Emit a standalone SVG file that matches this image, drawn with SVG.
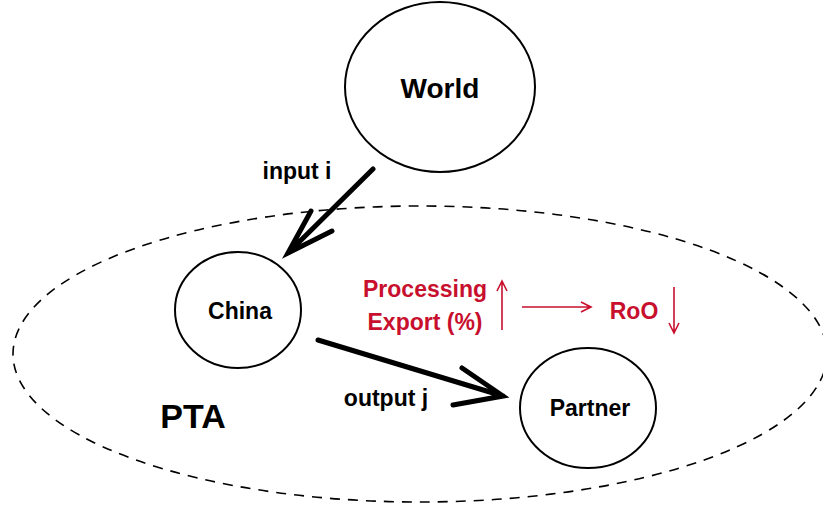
<svg xmlns="http://www.w3.org/2000/svg" width="823" height="508" viewBox="0 0 823 508">
<style>
.node{fill:#fff;stroke:#000;stroke-width:2}
.lbl{font-family:"Liberation Sans",Arial,sans-serif;font-weight:bold;fill:#000;text-anchor:middle}
.red{font-family:"Liberation Sans",Arial,sans-serif;font-weight:bold;fill:#c8102e;text-anchor:middle;font-size:23px}
.thick{stroke:#000;stroke-width:5;fill:none;stroke-linecap:round}
.thin{stroke:#c8102e;stroke-width:1.6;fill:none}
</style>
<rect width="823" height="508" fill="#fff"/>
<g id="pta">
<ellipse cx="420" cy="354" rx="407" ry="148" fill="none" stroke="#000" stroke-width="1.6" stroke-dasharray="10,8"/>
<text class="lbl" x="193" y="428" font-size="34">PTA</text>
</g>
<g id="world">
<ellipse class="node" cx="440" cy="87" rx="95" ry="85"/>
<text class="lbl" x="440" y="98" font-size="28">World</text>
</g>
<g id="china">
<ellipse class="node" cx="238" cy="310" rx="63" ry="58"/>
<text class="lbl" x="240" y="319" font-size="23">China</text>
</g>
<g id="partner">
<ellipse class="node" cx="588" cy="408" rx="68" ry="60"/>
<text class="lbl" x="590" y="416" font-size="23">Partner</text>
</g>
<g id="connectors">
<path class="thick" d="M373,169 L288,253 M311,211 L288,253 L332,231"/>
<text class="lbl" x="297" y="179" font-size="23">input i</text>
<path class="thick" d="M318,340 L503,396 M462,368 L503,396 L453,405"/>
<text class="lbl" x="386" y="406" font-size="23">output j</text>
<g id="effect">
<text class="red" x="425" y="297">Processing</text>
<text class="red" x="425" y="330">Export (%)</text>
<path class="thin" d="M502,330 L502,281 M497,291 L502,281 L507,291"/>
<path class="thin" d="M522,307 L591,307 M581,302 L591,307 L581,312"/>
<text class="red" x="634" y="319">RoO</text>
<path class="thin" d="M674,287 L674,333 M669,323 L674,333 L679,323"/>
</g>
</g>
</svg>
